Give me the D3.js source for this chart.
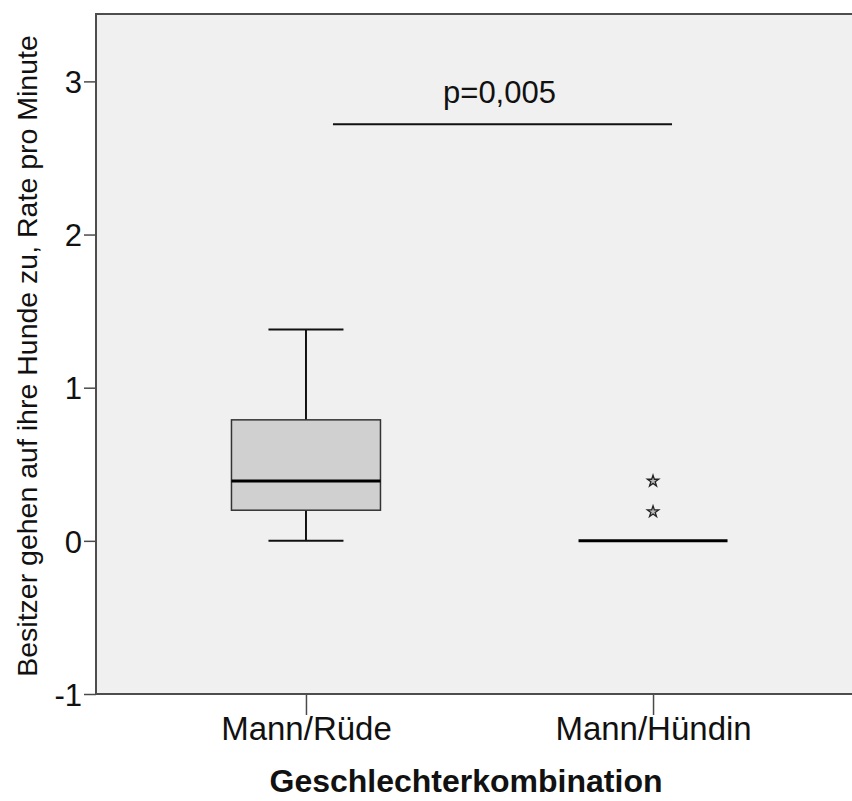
<!DOCTYPE html>
<html>
<head>
<meta charset="utf-8">
<script src="https://cdn.jsdelivr.net/npm/d3@7"></script>
<style>
  body { margin: 0; background: #fff; }
  text { font-family: Arial, "Liberation Sans", sans-serif; }
</style>
</head>
<body>
<script>
// Werte
const categories = ["Mann/Rüde", "Mann/Hündin"];
const whiskerLow = [0, 0];
const q1 = [0.20, 0];
const median = [0.39, 0];
const q3 = [0.79, 0];
const whiskerHigh = [1.38, 0];
const outliers = [[], [0.19, 0.39]];
const yTicks = [-1, 0, 1, 2, 3];
const pLabel = "p=0,005";
const pLineValue = 2.72;
const pTextValue = 2.86;

const W = 852, H = 801;
const plot = { left: 96, top: 14, right: 863, bottom: 694 };

const svg = d3.select("body").append("svg")
    .attr("width", W)
    .attr("height", H);

const x = d3.scalePoint()
    .domain(categories)
    .range([plot.left, plot.right])
    .padding(0.605);

const y = d3.scaleLinear()
    .domain([-1, 3.44])
    .range([plot.bottom, plot.top]);

// Hintergrund des Diagramms
svg.append("rect")
    .attr("x", plot.left)
    .attr("y", plot.top)
    .attr("width", plot.right - plot.left)
    .attr("height", plot.bottom - plot.top)
    .attr("fill", "#f0f0f0");

// Achsen
const yAxis = svg.append("g")
    .attr("transform", `translate(${plot.left},0)`)
    .call(d3.axisLeft(y).tickValues(yTicks).tickFormat(d => String(d)).tickSize(12).tickPadding(2));

const xAxis = svg.append("g")
    .attr("transform", `translate(0,${plot.bottom})`)
    .call(d3.axisBottom(x).tickSize(21).tickPadding(6));

[yAxis, xAxis].forEach(ax => {
    ax.select(".domain").remove();
    ax.selectAll(".tick line").attr("stroke", "#4a4a4a").attr("stroke-width", 1.5);
    ax.selectAll(".tick text").attr("fill", "#111").attr("font-size", "31px")
        .attr("font-family", "Arial, 'Liberation Sans', sans-serif");
});
yAxis.selectAll(".tick text").attr("dy", "0.36em");
xAxis.selectAll(".tick text").attr("dy", "0.71em").attr("y", 23).attr("font-size", "33px");

// Rahmen (oben, links, unten)
svg.append("path")
    .attr("d", `M${plot.right},${plot.top}H${plot.left}V${plot.bottom}H${plot.right}`)
    .attr("fill", "none")
    .attr("stroke", "#4d4d4d")
    .attr("stroke-width", 2);

// Boxplots
const boxHalf = 74.5, capHalf = 37.5;
const boxes = svg.selectAll(".box")
    .data(categories.map((c, i) => ({ c, lo: whiskerLow[i], q1: q1[i], med: median[i], q3: q3[i], hi: whiskerHigh[i], out: outliers[i] })))
    .enter().append("g")
    .attr("class", "box");

boxes.filter(d => d.q3 > d.q1).each(function(d) {
    const g = d3.select(this), cx = x(d.c);
    g.append("line").attr("x1", cx).attr("x2", cx).attr("y1", y(d.hi)).attr("y2", y(d.q3))
        .attr("stroke", "#111").attr("stroke-width", 2);
    g.append("line").attr("x1", cx).attr("x2", cx).attr("y1", y(d.q1)).attr("y2", y(d.lo))
        .attr("stroke", "#111").attr("stroke-width", 2);
    [d.hi, d.lo].forEach(v => g.append("line")
        .attr("x1", cx - capHalf).attr("x2", cx + capHalf).attr("y1", y(v)).attr("y2", y(v))
        .attr("stroke", "#111").attr("stroke-width", 2));
    g.append("rect")
        .attr("x", cx - boxHalf).attr("y", y(d.q3))
        .attr("width", boxHalf * 2).attr("height", y(d.q1) - y(d.q3))
        .attr("fill", "#d0d0d0").attr("stroke", "#333").attr("stroke-width", 1.5);
});

boxes.append("line")
    .attr("x1", d => x(d.c) - boxHalf).attr("x2", d => x(d.c) + boxHalf)
    .attr("y1", d => y(d.med)).attr("y2", d => y(d.med))
    .attr("stroke", "#000").attr("stroke-width", 3);

// Extremwerte als Sterne
boxes.selectAll(".out")
    .data(d => d.out.map(v => ({ c: d.c, v })))
    .enter().append("path")
    .attr("class", "out")
    .attr("d", d3.symbol(d3.symbolStar, 40))
    .attr("transform", d => `translate(${x(d.c)},${y(d.v)})`)
    .attr("fill", "#bbb")
    .attr("stroke", "#222")
    .attr("stroke-width", 1.3);

// Signifikanzlinie
const px1 = x(categories[0]) + 27, px2 = x(categories[1]) + 19;
svg.append("line")
    .attr("x1", px1).attr("x2", px2)
    .attr("y1", y(pLineValue)).attr("y2", y(pLineValue))
    .attr("stroke", "#111").attr("stroke-width", 2);

svg.append("text")
    .attr("x", (px1 + px2) / 2 - 3)
    .attr("y", y(pTextValue))
    .attr("text-anchor", "middle")
    .attr("font-size", "31px")
    .attr("fill", "#111")
    .text(pLabel);

// Achsentitel
svg.append("text")
    .attr("x", 466)
    .attr("y", 792)
    .attr("text-anchor", "middle")
    .attr("font-size", "32px")
    .attr("font-weight", "bold")
    .attr("fill", "#111")
    .text("Geschlechterkombination");

svg.append("text")
    .attr("transform", "translate(37,356) rotate(-90)")
    .attr("text-anchor", "middle")
    .attr("font-size", "28.5px")
    .attr("fill", "#111")
    .text("Besitzer gehen auf ihre Hunde zu, Rate pro Minute");
</script>
</body>
</html>
